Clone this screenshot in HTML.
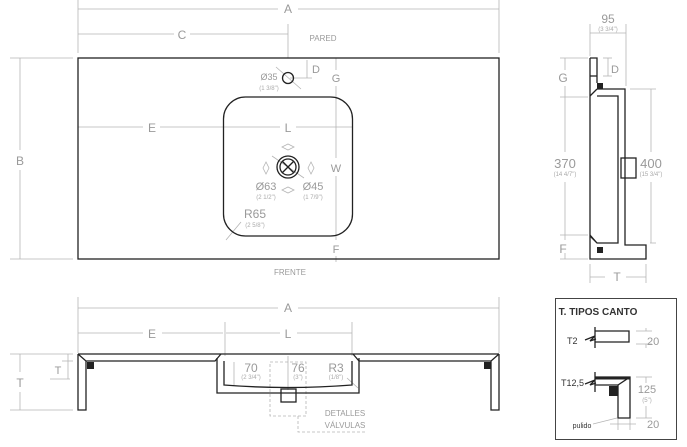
<!DOCTYPE html>
<html><head><meta charset="utf-8"><style>
html,body{margin:0;padding:0;background:#fff;width:687px;height:447px;overflow:hidden}
svg{display:block}
text{font-family:"Liberation Sans",sans-serif;fill:#9a9a9a}
.d{stroke:#b5b5b5;stroke-width:0.8;fill:none}
.k{stroke:#222;stroke-width:1.3;fill:none}
.s{font-size:6px;fill:#aaa}
</style></head><body>
<svg width="687" height="447" viewBox="0 0 687 447">
<!-- TOP VIEW -->
<g class="d">
<line x1="78" y1="0" x2="78" y2="53"/><line x1="499" y1="0" x2="499" y2="53"/>
<line x1="78" y1="9" x2="278" y2="9"/><line x1="298" y1="9" x2="499" y2="9"/>
<line x1="78" y1="34" x2="174" y2="34"/><line x1="190" y1="34" x2="288" y2="34"/>
<line x1="288" y1="24" x2="288" y2="58"/>
<line x1="10" y1="58" x2="73" y2="58"/><line x1="10" y1="259" x2="73" y2="259"/>
<line x1="20" y1="58" x2="20" y2="150"/><line x1="20" y1="170" x2="20" y2="259"/>
<line x1="307" y1="60" x2="307" y2="78"/><line x1="290" y1="78" x2="312" y2="78"/>
<line x1="336" y1="58" x2="336" y2="70"/><line x1="336" y1="86" x2="336" y2="158"/><line x1="336" y1="176" x2="336" y2="240"/><line x1="336" y1="256" x2="336" y2="262"/>
<line x1="276" y1="67" x2="301" y2="89"/>
<line x1="78" y1="127" x2="143" y2="127"/><line x1="160" y1="127" x2="280" y2="127"/><line x1="296" y1="127" x2="352" y2="127"/>
<line x1="226" y1="240" x2="241" y2="222"/>
<line x1="272" y1="156" x2="304" y2="178"/>
<path d="M282 147 l6 -3 l6 3 l-6 3z M282 190 l6 -3 l6 3 l-6 3z M266 162 l-3 6 l3 6 l3 -6z M311 162 l-3 6 l3 6 l3 -6z"/>
</g>
<rect x="78" y="58" width="421" height="201" class="k"/>
<rect x="223.5" y="97" width="129" height="139" rx="22" class="k"/>
<circle cx="288" cy="78" r="5.5" class="k"/>
<circle cx="288" cy="167" r="11" class="k"/><circle cx="288" cy="167" r="8" class="k"/>
<line x1="282" y1="161" x2="294" y2="173" class="k" stroke-width="0.8"/><line x1="294" y1="161" x2="282" y2="173" class="k" stroke-width="0.8"/>
<text x="288" y="13" font-size="12" text-anchor="middle">A</text>
<text x="182" y="39" font-size="12" text-anchor="middle">C</text>
<text x="323" y="41" font-size="8" text-anchor="middle">PARED</text>
<text x="20" y="165" font-size="12" text-anchor="middle">B</text>
<text x="316" y="73" font-size="11" text-anchor="middle">D</text>
<text x="336" y="82" font-size="11" text-anchor="middle">G</text>
<text x="336" y="172" font-size="11" text-anchor="middle">W</text>
<text x="336" y="253" font-size="11" text-anchor="middle">F</text>
<text x="269" y="80" font-size="9" text-anchor="middle">Ø35</text>
<text x="269" y="90" class="s" text-anchor="middle">(1 3/8")</text>
<text x="152" y="132" font-size="12" text-anchor="middle">E</text>
<text x="288" y="132" font-size="12" text-anchor="middle">L</text>
<text x="266" y="190" font-size="11" text-anchor="middle">Ø63</text>
<text x="266" y="199" class="s" text-anchor="middle">(2 1/2")</text>
<text x="313" y="190" font-size="11" text-anchor="middle">Ø45</text>
<text x="313" y="199" class="s" text-anchor="middle">(1 7/9")</text>
<text x="255" y="218" font-size="12" text-anchor="middle">R65</text>
<text x="255" y="227" class="s" text-anchor="middle">(2 5/8")</text>
<text x="290" y="275" font-size="8" text-anchor="middle">FRENTE</text>
<!-- FRONT SECTION -->
<g class="d">
<line x1="78" y1="297" x2="78" y2="353"/><line x1="499" y1="297" x2="499" y2="353"/>
<line x1="78" y1="308" x2="278" y2="308"/><line x1="298" y1="308" x2="499" y2="308"/>
<line x1="225" y1="322" x2="225" y2="356"/><line x1="352" y1="322" x2="352" y2="356"/>
<line x1="78" y1="333" x2="143" y2="333"/><line x1="162" y1="333" x2="223" y2="333"/>
<line x1="226" y1="333" x2="280" y2="333"/><line x1="297" y1="333" x2="352" y2="333"/>
<line x1="10" y1="354" x2="73" y2="354"/><line x1="10" y1="410" x2="73" y2="410"/>
<line x1="20" y1="354" x2="20" y2="372"/><line x1="20" y1="392" x2="20" y2="410"/>
<line x1="50" y1="379" x2="70" y2="379"/><line x1="68" y1="354" x2="68" y2="379"/><line x1="62" y1="361" x2="73" y2="361"/>
<line x1="234" y1="362" x2="234" y2="385"/><line x1="288" y1="356" x2="288" y2="390"/>
<line x1="347" y1="378" x2="358" y2="388"/>
<rect x="270" y="362" width="36" height="54" stroke-dasharray="3,2"/>
<polyline points="298,416 298,432 367,432" stroke-dasharray="3,2"/>
</g>
<g class="k">
<path d="M78 354 L499 354"/>
<path d="M78 354 V410 H86 V361 L78 354 M86 361 H215 L221 354"/>
<path d="M499 354 V410 H491 V361 L499 354 M491 361 H359 L353 354"/>
<path d="M217 358 V393 H359 V358"/>
<path d="M224 361 V385 Q288 390 352 385 V361"/>
<rect x="281" y="389" width="15" height="13"/>
</g>
<rect x="87" y="362" width="7" height="7" fill="#222"/>
<rect x="484" y="362" width="7" height="7" fill="#222"/>
<text x="288" y="312" font-size="12" text-anchor="middle">A</text>
<text x="152" y="338" font-size="12" text-anchor="middle">E</text>
<text x="288" y="338" font-size="12" text-anchor="middle">L</text>
<text x="20" y="387" font-size="12" text-anchor="middle">T</text>
<text x="58" y="374" font-size="11" text-anchor="middle">T</text>
<text x="251" y="372" font-size="12" text-anchor="middle">70</text>
<text x="251" y="379" class="s" text-anchor="middle">(2 3/4")</text>
<text x="298" y="372" font-size="12" text-anchor="middle">76</text>
<text x="298" y="379" class="s" text-anchor="middle">(3")</text>
<text x="336" y="372" font-size="12" text-anchor="middle">R3</text>
<text x="336" y="379" class="s" text-anchor="middle">(1/8")</text>
<text x="345" y="416" font-size="8" text-anchor="middle">DETALLES</text>
<text x="345" y="428" font-size="8" text-anchor="middle">VÁLVULAS</text>
<!-- SIDE VIEW -->
<g class="d">
<line x1="590" y1="24" x2="590" y2="56"/><line x1="626" y1="24" x2="626" y2="86"/>
<line x1="590" y1="33" x2="626" y2="33"/>
<line x1="560" y1="58" x2="588" y2="58"/><line x1="560" y1="97" x2="588" y2="97"/><line x1="560" y1="235" x2="588" y2="235"/><line x1="560" y1="259" x2="588" y2="259"/>
<line x1="565" y1="58" x2="565" y2="70"/><line x1="565" y1="86" x2="565" y2="152"/><line x1="565" y1="182" x2="565" y2="240"/><line x1="565" y1="253" x2="565" y2="259"/>
<line x1="603" y1="58" x2="612" y2="58"/><line x1="603" y1="76" x2="612" y2="76"/><line x1="608" y1="58" x2="608" y2="76"/>
<line x1="630" y1="89" x2="656" y2="89"/><line x1="650" y1="243" x2="656" y2="243"/>
<line x1="651" y1="89" x2="651" y2="152"/><line x1="651" y1="182" x2="651" y2="243"/>
<line x1="590" y1="264" x2="590" y2="283"/><line x1="646" y1="264" x2="646" y2="283"/>
<line x1="590" y1="277" x2="605" y2="277"/><line x1="626" y1="277" x2="646" y2="277"/>
</g>
<g class="k" stroke-width="1.1">
<path d="M590 58 H597 V83 M590 58 V259 H646 V245 H625 V89 H597"/>
<path d="M590 96 L597 89 M590 236 L597 243 H618 V96 H597 M590 235 L597 243"/>
<path d="M597 76 H590"/>
<rect x="621" y="158" width="15" height="20"/>
</g>
<rect x="597" y="83" width="6" height="6" fill="#222"/>
<rect x="597" y="247" width="6" height="6" fill="#222"/>
<text x="608" y="23" font-size="12" text-anchor="middle">95</text>
<text x="608" y="31" class="s" text-anchor="middle">(3 3/4")</text>
<text x="563" y="82" font-size="12" text-anchor="middle">G</text>
<text x="565" y="168" font-size="13" text-anchor="middle">370</text>
<text x="565" y="176" class="s" text-anchor="middle">(14 4/7")</text>
<text x="563" y="253" font-size="12" text-anchor="middle">F</text>
<text x="615" y="73" font-size="11" text-anchor="middle">D</text>
<text x="651" y="168" font-size="13" text-anchor="middle">400</text>
<text x="651" y="176" class="s" text-anchor="middle">(15 3/4")</text>
<text x="617" y="281" font-size="12" text-anchor="middle">T</text>
<!-- LEGEND BOX -->
<rect x="555.5" y="298.5" width="121" height="141" fill="none" stroke="#444" stroke-width="1"/>
<text x="598" y="315" font-size="10" font-weight="bold" text-anchor="middle" style="fill:#333">T. TIPOS CANTO</text>
<g class="d">
<line x1="646" y1="328" x2="646" y2="331"/><line x1="646" y1="344" x2="646" y2="348"/>
<line x1="636" y1="331" x2="652" y2="331"/><line x1="636" y1="344" x2="652" y2="344"/>
<line x1="636" y1="377" x2="652" y2="377"/><line x1="636" y1="418" x2="652" y2="418"/>
<line x1="646" y1="377" x2="646" y2="383"/><line x1="646" y1="406" x2="646" y2="418"/>
<line x1="618" y1="419" x2="618" y2="430"/><line x1="630" y1="419" x2="630" y2="430"/>
<line x1="610" y1="424" x2="636" y2="424"/>
<line x1="593" y1="424" x2="617" y2="418"/>
</g>
<g class="k" stroke-width="1">
<path d="M595 327 V348 M595 331 H629 V342 H595"/>
<path d="M585 340 L595 336 L590 341 L596 339"/>
<path d="M595 372 V392 M595 377 H630 V418 H618 V385 H595"/>
<path d="M618 385 L630 377"/>
<path d="M585 384 L595 380 L590 385 L596 383"/>
</g>
<rect x="595" y="377" width="35" height="2.5" fill="#222"/>
<rect x="609" y="386" width="9" height="10" fill="#222"/>
<text x="567" y="344" font-size="9" style="fill:#333">T2</text>
<text x="561" y="386" font-size="9" style="fill:#333">T12,5</text>
<text x="582" y="428" font-size="7" text-anchor="middle" style="fill:#333">pulido</text>
<text x="647" y="345" font-size="11">20</text>
<text x="647" y="393" font-size="11" text-anchor="middle">125</text>
<text x="647" y="402" class="s" text-anchor="middle">(5")</text>
<text x="647" y="428" font-size="11">20</text>
</svg>
</body></html>
